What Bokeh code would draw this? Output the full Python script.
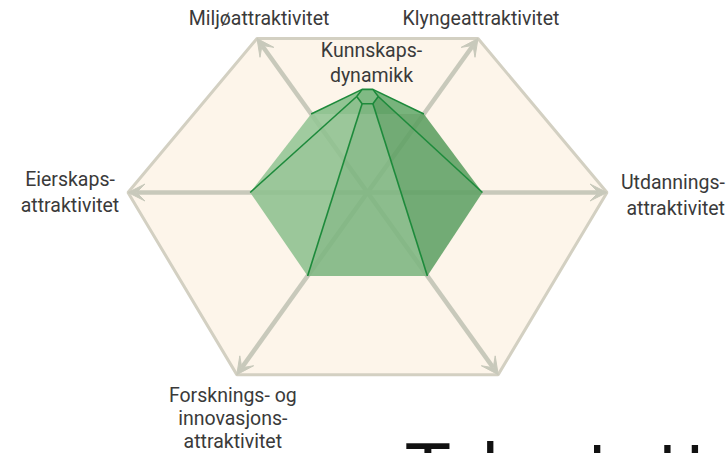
import numpy as np
from bokeh.plotting import figure
from bokeh.models import Range1d, Arrow, VeeHead
from bokeh.core.properties import value
from bokeh.embed import file_html
from bokeh.resources import INLINE

# ---------------- data ----------------
axis_labels = ["Utdannings-\nattraktivitet", "Klyngeattraktivitet", "Miljøattraktivitet",
               "Eierskaps-\nattraktivitet", "Forsknings- og\ninnovasjons-\nattraktivitet", ""]
axis_angles_deg = [0, 60, 120, 180, 240, 300]
axis_max = [1.0, 1.0, 1.0, 1.0, 1.0, 1.0]
scores = [0.48, 0.49, 0.49, 0.49, 0.48, 0.48]
peak_label = "Kunnskaps-\ndynamikk"
peak_height = 0.50
peak_cap = 0.045
title_text = "Talentattraktivitet"

# ---------------- projection (style) ----------------
CX, CY = 367.0, 192.0
SX, SY, DEPTH, SZ = 239.5, 192.7, 0.0967, 192.0


def project(r, ang_deg, h=0.0):
    a = np.radians(ang_deg)
    u, v = r * np.cos(a), r * np.sin(a)
    d = 1.0 + DEPTH * v
    return CX + SX * u / d, CY - (SY * v + SZ * h) / d


FONT = value("Roboto")
TXT = "#3a3a3a"

p = figure(width=728, height=453, x_range=Range1d(0, 728), y_range=Range1d(453, 0),
           output_backend="svg", toolbar_location=None, min_border=0,
           x_axis_type=None, y_axis_type=None)
p.outline_line_color = None
p.grid.visible = False
p.background_fill_color = "white"
p.border_fill_color = "white"

# outer hexagon frame
outer = [project(m, a) for m, a in zip(axis_max, axis_angles_deg)]
hx = [pt[0] for pt in outer]
hy = [pt[1] for pt in outer]
hexr = p.patch(hx, hy, fill_color="#fdf5ea", line_color="#d3d0c2", line_width=3)
hexr.level = "image"

# double-headed arrows between opposite axis ends
ARROW_C = "#c8c9bb"
for i in range(3):
    x0, y0 = outer[i]
    x1, y1 = outer[i + 3]
    p.add_layout(Arrow(x_start=x0, y_start=y0, x_end=x1, y_end=y1,
                       line_color=ARROW_C, line_width=4.5,
                       start=VeeHead(size=17, fill_color=ARROW_C, line_color=ARROW_C, line_width=1),
                       end=VeeHead(size=17, fill_color=ARROW_C, line_color=ARROW_C, line_width=1),
                       level="underlay"))

# green frustum
base = [project(s, a) for s, a in zip(scores, axis_angles_deg)]
cap = [project(peak_cap, a, peak_height) for a in axis_angles_deg]
face_colors = ["#5b9e60", "#7ab47d", "#93c594", "#8dc08e", "#7cb57f", "#5fa164"]
fxs, fys = [], []
n = len(base)
for i in range(n):
    j = (i + 1) % n
    fxs.append([base[i][0], base[j][0], cap[j][0], cap[i][0]])
    fys.append([base[i][1], base[j][1], cap[j][1], cap[i][1]])
p.patches(fxs, fys, fill_color=face_colors, fill_alpha=0.88, line_color=None)

# cap
p.patch([c[0] for c in cap], [c[1] for c in cap], fill_color="#80b984", fill_alpha=0.95,
        line_color="#1d8a3b", line_width=1.6)

# lateral edges
p.multi_line([[base[i][0], cap[i][0]] for i in range(n)],
             [[base[i][1], cap[i][1]] for i in range(n)],
             line_color="#1d8a3b", line_width=1.6)

# axis labels: (axis index, dx, dy, align, baseline, line height)
label_specs = [
    (0, 118, 3, "right", "middle", 1.1),
    (1, 3, -20, "center", "middle", 1.1),
    (2, 2, -20, "center", "middle", 1.1),
    (3, -58, 0, "center", "middle", 1.1),
    (4, -4, 9, "center", "top", 1.0),
]
for idx, dx, dy, al, bl, lh in label_specs:
    vx, vy = outer[idx]
    p.text(x=[vx + dx], y=[vy + dy], text=[axis_labels[idx]], text_font=FONT,
           text_font_size="19.5px", text_color=TXT, text_align=al, text_baseline=bl,
           text_line_height=lh)

# peak label
px, py = project(0, 0, peak_height)
p.text(x=[px + 4], y=[py - 9], text=[peak_label], text_font=FONT, text_font_size="19.5px",
       text_color=TXT, text_align="center", text_baseline="bottom", text_line_height=1.1)

# cropped slide title (cut off at the bottom edge, as in the source image)
p.text(x=[406], y=[428], text=[title_text], text_font=value("DejaVu Sans"),
       text_font_size="70px", text_color="#111111", text_align="left",
       text_baseline="top")

open("out.html", "w").write(file_html(p, INLINE))
